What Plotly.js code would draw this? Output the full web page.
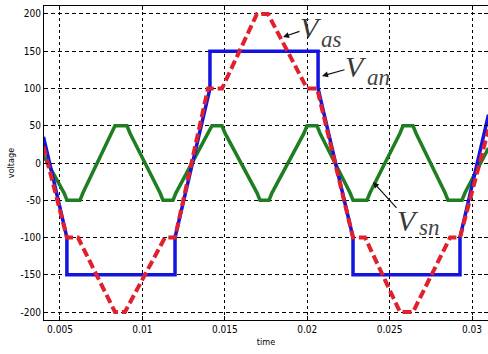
<!DOCTYPE html>
<html>
<head>
<meta charset="utf-8">
<script src="https://cdn.plot.ly/plotly-3.0.1.min.js"></script>
<style>html,body{margin:0;padding:0;background:#fff;}#chart{width:488px;height:354px;}</style>
</head>
<body>
<div id="chart"></div>
<script>
// Van (blue, solid)
const vanTime = [0.0040, 0.00542, 0.00542, 0.01198, 0.01198, 0.01410, 0.01410, 0.02066, 0.02066, 0.02278, 0.02278, 0.02927, 0.02927, 0.0310];
const vanVolt = [35, -100, -150, -150, -100, 100, 150, 150, 100, -100, -150, -150, -100, 65];

// Vas (red, dashed)
const vasTime = [0.0040, 0.00542, 0.00609, 0.00834, 0.00894, 0.01137, 0.01198, 0.01398, 0.01483, 0.01695, 0.01762, 0.01999, 0.02060, 0.02278, 0.02351, 0.02563, 0.02642, 0.02867, 0.02927, 0.0310];
const vasVolt = [22, -100, -100, -200, -200, -100, -100, 100, 100, 200, 200, 100, 100, -100, -100, -200, -200, -100, -100, 45];

// Vsn (green, solid)
const vsnTime = [0.0040, 0.005243, 0.005425, 0.006214, 0.006396, 0.008155, 0.008337, 0.009066, 0.009248, 0.011068, 0.011250, 0.011857, 0.012039, 0.013981, 0.014223, 0.014830, 0.015012, 0.016954, 0.017136, 0.017682, 0.017864, 0.019806, 0.019988, 0.020595, 0.020777, 0.022597, 0.022779, 0.023629, 0.023811, 0.025631, 0.025813, 0.026420, 0.026602, 0.028362, 0.028544, 0.029393, 0.029575, 0.0310];
const vsnVolt = [10, -40, -50, -50, -40, 40, 50, 50, 40, -40, -50, -50, -40, 40, 50, 50, 40, -40, -50, -50, -40, 40, 50, 50, 40, -40, -50, -50, -40, 40, 50, 50, 40, -40, -50, -50, -40, 20];

const xTickVals = [0.005, 0.01, 0.015, 0.02, 0.025, 0.03];
const xTickText = ["0.005", "0.01", "0.015", "0.02", "0.025", "0.03"];
const yTickVals = [-200, -150, -100, -50, 0, 50, 100, 150, 200];
const yTickText = ["-200", "-150", "-100", "-50", "0", "50", "100", "150", "200"];

const tickFont = {family: "'DejaVu Sans Condensed', 'Liberation Sans Narrow', sans-serif", size: 10, color: '#000'};
const serif = "'Liberation Serif', 'Times New Roman', serif";

const traces = [
  {x: vsnTime, y: vsnVolt, mode: 'lines', line: {color: '#1f7d22', width: 3.5}, hoverinfo: 'skip'},
  {x: vanTime, y: vanVolt, mode: 'lines', line: {color: '#1414e0', width: 3.5}, hoverinfo: 'skip'},
  {x: vasTime, y: vasVolt, mode: 'lines', line: {color: '#e0202c', width: 4, dash: '9px,4px'}, hoverinfo: 'skip'}
];

function px(xp) { return (xp - 44) / 444; }
function py(yp) { return (320 - yp) / 314; }

const annotations = [];
// "V" with its pointer arrow (arrow drawn from the V box edge to the tip), plus the italic subscript
function label(tipX, tipY, vCx, vCy, sub, sCx, sCy) {
  annotations.push({xref: 'paper', yref: 'paper', x: px(tipX), y: py(tipY), ax: vCx - tipX, ay: vCy - tipY,
    text: '<i>V</i>', font: {family: serif, size: 30, color: '#383838'}, borderpad: 0,
    showarrow: true, arrowhead: 2, arrowsize: 1, arrowwidth: 1.2, arrowcolor: '#111', standoff: 0, startstandoff: 0});
  annotations.push({xref: 'paper', yref: 'paper', x: px(sCx), y: py(sCy), xanchor: 'center', yanchor: 'middle', showarrow: false,
    text: '<i>' + sub + '</i>', font: {family: serif, size: 23, color: '#444'}, borderpad: 0});
}
label(283, 37, 311, 27.5, 'as', 331.5, 39.6);
label(322, 76, 356, 66.5, 'an', 378, 77.6);
label(373, 182, 408, 220.5, 'sn', 428.5, 227.6);

const layout = {
  width: 488, height: 354,
  margin: {l: 44, r: 0, t: 6, b: 34, pad: 0},
  paper_bgcolor: '#fff', plot_bgcolor: '#fff',
  showlegend: false,
  xaxis: {
    range: [0.00403, 0.03097], tickvals: xTickVals, ticktext: xTickText,
    showgrid: true, gridcolor: '#000', gridwidth: 1, griddash: '3px,3px',
    showline: true, linecolor: '#000', linewidth: 1, mirror: 'ticks',
    ticks: 'inside', ticklen: 4, tickcolor: '#000', zeroline: false,
    tickfont: tickFont, automargin: false,
    title: {text: 'time', font: {family: "'DejaVu Sans Condensed', sans-serif", size: 9, color: '#000'}, standoff: 4}
  },
  yaxis: {
    range: [-210.7, 210.7], tickvals: yTickVals, ticktext: yTickText,
    showgrid: true, gridcolor: '#000', gridwidth: 1, griddash: '4px,3px',
    showline: true, linecolor: '#000', linewidth: 1, mirror: 'ticks',
    ticks: 'inside', ticklen: 4, tickcolor: '#000', zeroline: false,
    tickfont: tickFont, automargin: false,
    title: {text: 'voltage', font: {family: "'DejaVu Sans Condensed', sans-serif", size: 9, color: '#000'}, standoff: 4}
  },
  annotations: annotations
};

Plotly.newPlot('chart', traces, layout, {displayModeBar: false, staticPlot: true});
</script>
</body>
</html>
